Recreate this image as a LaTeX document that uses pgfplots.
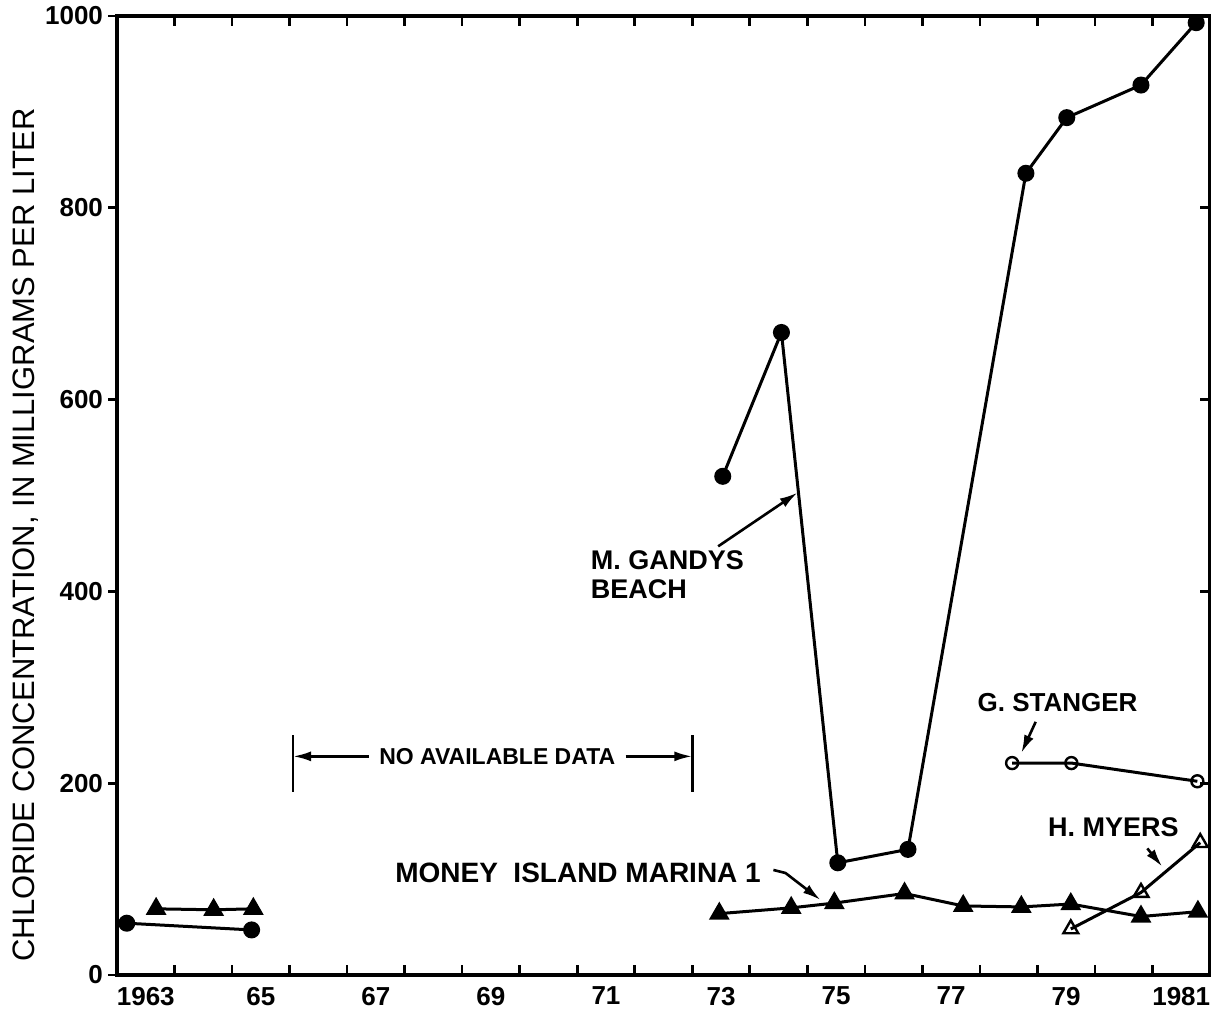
\documentclass[border=0pt]{standalone}
\usepackage{fontspec}
\setmainfont{Liberation Sans}
\newfontfamily\lab{Liberation Sans Bold}
\usepackage{pgfplots}
\pgfplotsset{compat=1.18}
\usetikzlibrary{arrows.meta}

\begin{document}
\begin{tikzpicture}[ann/.style={line width=1.3pt, -{Latex[length=9pt,width=5pt]}}]
\begin{axis}[
  scale only axis, width=546.5pt, height=479.5pt,
  xmin=1963, xmax=1982, ymin=0, ymax=1000,
  clip=false,
  axis line style={line width=1.6pt},
  tick align=inside,
  xtick={1964,1965,...,1981},
  xticklabels={},
  extra x ticks={1963.5,1965.5,1967.5,1969.5,1971.5,1973.5,1975.5,1977.5,1979.5,1981.5},
  extra x tick labels={1963,65,67,69,71,73,75,77,79,1981},
  extra x tick style={major tick length=0pt, tick style={draw=none}},
  ytick={0,200,400,600,800,1000},
  yticklabels={0,200,400,600,800,1000},
  ytick pos=right,
  yticklabel pos=left,
  major tick length=5pt,
  tick style={line width=1.3pt, black},
  tick label style={font=\lab\fontsize{13}{13}\selectfont},
  xticklabel style={yshift=-2.5pt},
  yticklabel style={xshift=-3.5pt},
  /pgf/number format/assume math mode=true,
]
\coordinate (sw) at (rel axis cs:0,0);
\coordinate (ne) at (rel axis cs:1,1);
\coordinate (ylab) at (rel axis cs:0,0.459);

% M. Gandys Beach (filled circles)
\addplot[line width=1.5pt, mark=*, mark size=3.5pt, mark options={solid, fill=black}]
  coordinates {(1963.17,54) (1965.34,47)};
\addplot[line width=1.5pt, mark=*, mark size=3.5pt, mark options={solid, fill=black}]
  coordinates {(1973.53,520) (1974.55,670) (1975.53,117) (1976.75,131)
               (1978.80,836) (1979.51,894) (1980.80,928) (1981.76,993)};
% Money Island Marina 1 (filled triangles)
\addplot[line width=1.5pt, mark=triangle*, mark size=4.5pt, mark options={solid, fill=black}]
  coordinates {(1963.68,69) (1964.68,68) (1965.37,69)};
\addplot[line width=1.5pt, mark=triangle*, mark size=4.5pt, mark options={solid, fill=black}]
  coordinates {(1973.47,64) (1974.72,70) (1975.47,75) (1976.69,85) (1977.71,72)
               (1978.72,71) (1979.58,74) (1980.80,61) (1981.79,66)};
% G. Stanger (open circles)
\addplot[line width=1.5pt, mark=o, mark size=3pt, mark options={solid, fill=white, line width=1.2pt}]
  coordinates {(1978.56,221) (1979.59,221) (1981.78,202)};
% H. Myers (open triangles)
\addplot[line width=1.5pt, mark=triangle, mark size=4.3pt, mark options={solid, fill=white, line width=1.2pt}]
  coordinates {(1979.58,48) (1980.80,86) (1981.83,138)};

% annotations
\node[font=\lab\fontsize{14}{14}\selectfont, anchor=west, inner sep=0pt] at (1967.83,106) {MONEY\ \ ISLAND MARINA 1};
\draw[ann] (1974.41,109.5) -- (1974.62,106.4) -- (1975.23,78.2);

\node[font=\lab\fontsize{13.5}{14.5}\selectfont, anchor=north west, align=left, inner sep=0pt] at (1971.23,443) {M. GANDYS\\BEACH};
\draw[ann] (1973.45,447) -- (1974.83,503);

\node[font=\lab\fontsize{13}{13}\selectfont, inner sep=0pt] at (1979.35,284) {G. STANGER};
\draw[ann] (1978.97,264) -- (1978.72,231.5);

\node[font=\lab\fontsize{13.5}{13.5}\selectfont, inner sep=0pt] at (1980.32,154) {H. MYERS};
\draw[ann] (1980.91,132) -- (1981.17,113);

\draw[line width=1.3pt] (1966.06,191) -- (1966.06,250);
\draw[line width=1.3pt] (1973.0,191) -- (1973.0,250);
\node[font=\lab\fontsize{11.5}{11.5}\selectfont, inner xsep=5pt, inner ysep=0pt] (nad) at (1969.61,228) {NO AVAILABLE DATA};
\draw[ann] (nad.west) -- (1966.06,228);
\draw[ann] (nad.east) -- (1973.0,228);
\end{axis}
% left-side outward y ticks
\begin{axis}[
  scale only axis, width=546.5pt, height=479.5pt,
  xmin=1963, xmax=1982, ymin=0, ymax=1000,
  hide x axis,
  axis line style={draw=none},
  ytick={0,200,400,600,800,1000},
  yticklabels={},
  ytick pos=left,
  tick align=outside,
  major tick length=4.5pt,
  tick style={line width=1.3pt, black},
]
\end{axis}
\node[rotate=90, font=\fontsize{15.5}{15.5}\selectfont] at ([xshift=-45.5pt]ylab) {CHLORIDE CONCENTRATION, IN MILLIGRAMS PER LITER};
\pgfresetboundingbox
\path ([shift={(-58.5pt,-19.5pt)}]sw) rectangle ([shift={(0.5pt,8pt)}]ne);
\end{tikzpicture}
\end{document}
